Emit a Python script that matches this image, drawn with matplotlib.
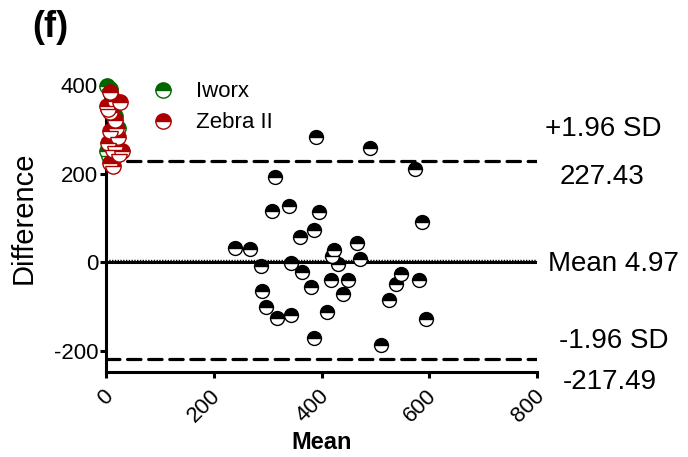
import matplotlib
matplotlib.use("Agg")
import matplotlib.pyplot as plt
from matplotlib.lines import Line2D
from matplotlib.transforms import ScaledTranslation

plt.rcParams['font.family'] = ['Liberation Sans', 'DejaVu Sans']
plt.rcParams['axes.unicode_minus'] = False

# Bland-Altman data
black_mean = [389, 489, 574, 314, 308, 339, 395, 586, 361, 387, 240, 268,
              465, 423, 420, 471, 287, 344, 430, 363, 547, 418, 449, 581,
              538, 380, 290, 439, 526, 298, 317, 343, 410, 593, 387, 510]
black_diff = [283, 257, 211, 192, 116, 128, 113, 90, 57, 73, 32, 30,
              43, 28, 13, 7, -8, -1, -4, -21, -27, -39, -39, -41,
              -49, -57, -64, -72, -86, -101, -126, -119, -113, -128, -170, -187]

iworx_mean = [2, 8, 12, 23, 2, 12, 18, 6, 20]
iworx_diff = [398, 390, 370, 304, 251, 277, 330, 240, 262]

zebra_mean = [8, 17, 2, 26, 8, 17, 20, 8, 23, 4, 17, 13, 30, 8, 14, 24, 5]
zebra_diff = [384, 364, 352, 361, 338, 322, 304, 296, 282, 270, 262, 254,
              251, 225, 217, 245, 345]

bias = 4.97
upper_loa = 227.43
lower_loa = -217.49

fig = plt.figure(figsize=(6.88, 4.57), dpi=100)
ax = fig.add_axes([0.1536, 0.1867, 0.6274, 0.6273])

ax.set_xlim(0, 800)
ax.set_ylim(-247, 400)

# reference lines
ax.plot([0, 800], [0, 0], color='black', lw=2.2, solid_capstyle='butt')
ax.plot([0, 800], [bias, bias], color='black', lw=1.0, ls=(0, (1, 1)))
ax.plot([0, 800], [upper_loa, upper_loa], color='black', lw=2.3,
        ls=(0, (4.2, 2.4)), dash_capstyle='round')
ax.plot([0, 800], [lower_loa, lower_loa], color='black', lw=2.3,
        ls=(0, (4.2, 2.4)), dash_capstyle='round')

ax.plot(black_mean, black_diff, 'o', ms=10, mec='black', mew=1.0,
        mfc='black', mfcalt='white', fillstyle='top', clip_on=False, zorder=3)
ax.plot(iworx_mean, iworx_diff, 'o', ms=11, mec='#006600', mew=1.0,
        mfc='#006600', mfcalt='white', fillstyle='top', clip_on=False, zorder=4)
ax.plot(zebra_mean, zebra_diff, 'o', ms=11, mec='#aa0000', mew=1.0,
        mfc='#aa0000', mfcalt='white', fillstyle='top', clip_on=False, zorder=5)

handles = [
    Line2D([], [], ls='none', marker='o', ms=11, mec='#006600', mew=1.0,
           mfc='#006600', mfcalt='white', fillstyle='top'),
    Line2D([], [], ls='none', marker='o', ms=11, mec='#aa0000', mew=1.0,
           mfc='#aa0000', mfcalt='white', fillstyle='top'),
]
ax.legend(handles, ['Iworx', 'Zebra II'], loc='upper left',
          bbox_to_anchor=(0.204, 0.822), bbox_transform=fig.transFigure,
          frameon=False, fontsize=16, handletextpad=0.5, labelspacing=0.45,
          borderpad=0, borderaxespad=0)

# spines and ticks
for side in ['top', 'right']:
    ax.spines[side].set_visible(False)
for side in ['left', 'bottom']:
    ax.spines[side].set_linewidth(2.2)
ax.set_xticks([0, 200, 400, 600, 800])
ax.set_yticks([-200, 0, 200, 400])
ax.tick_params(axis='both', width=2.2, length=4.5, labelsize=16, pad=1)
ax.tick_params(axis='x', pad=8)
shift = ScaledTranslation(4 / 100, -4 / 100, fig.dpi_scale_trans)
for lab in ax.get_xticklabels():
    lab.set_rotation(45)
    lab.set_ha('right')
    lab.set_va('center')
    lab.set_rotation_mode('anchor')
    lab.set_transform(lab.get_transform() + shift)

ax.set_xlabel('Mean', fontsize=17, fontweight='bold', labelpad=3)
ax.set_ylabel('Difference', fontsize=21)
ax.yaxis.set_label_coords(-0.157, 0.536)

# limit labels on the right
lab_kw = dict(xycoords=('axes fraction', 'data'), textcoords='offset points',
              fontsize=20, va='center', ha='left', annotation_clip=False)
ax.annotate('+1.96 SD', xy=(1, upper_loa), xytext=(5.5, 23.5), **lab_kw)
ax.annotate('227.43', xy=(1, upper_loa), xytext=(16, -11), **lab_kw)
ax.annotate('Mean 4.97', xy=(1, bias), xytext=(7.5, -2.5), **lab_kw)
ax.annotate('-1.96 SD', xy=(1, lower_loa), xytext=(15.5, 13), **lab_kw)
ax.annotate('-217.49', xy=(1, lower_loa), xytext=(18.5, -16.5), **lab_kw)

fig.text(0.073, 0.94, '(f)', fontsize=26, fontweight='bold',
         ha='center', va='center')

fig.savefig('out.png', dpi=100)
